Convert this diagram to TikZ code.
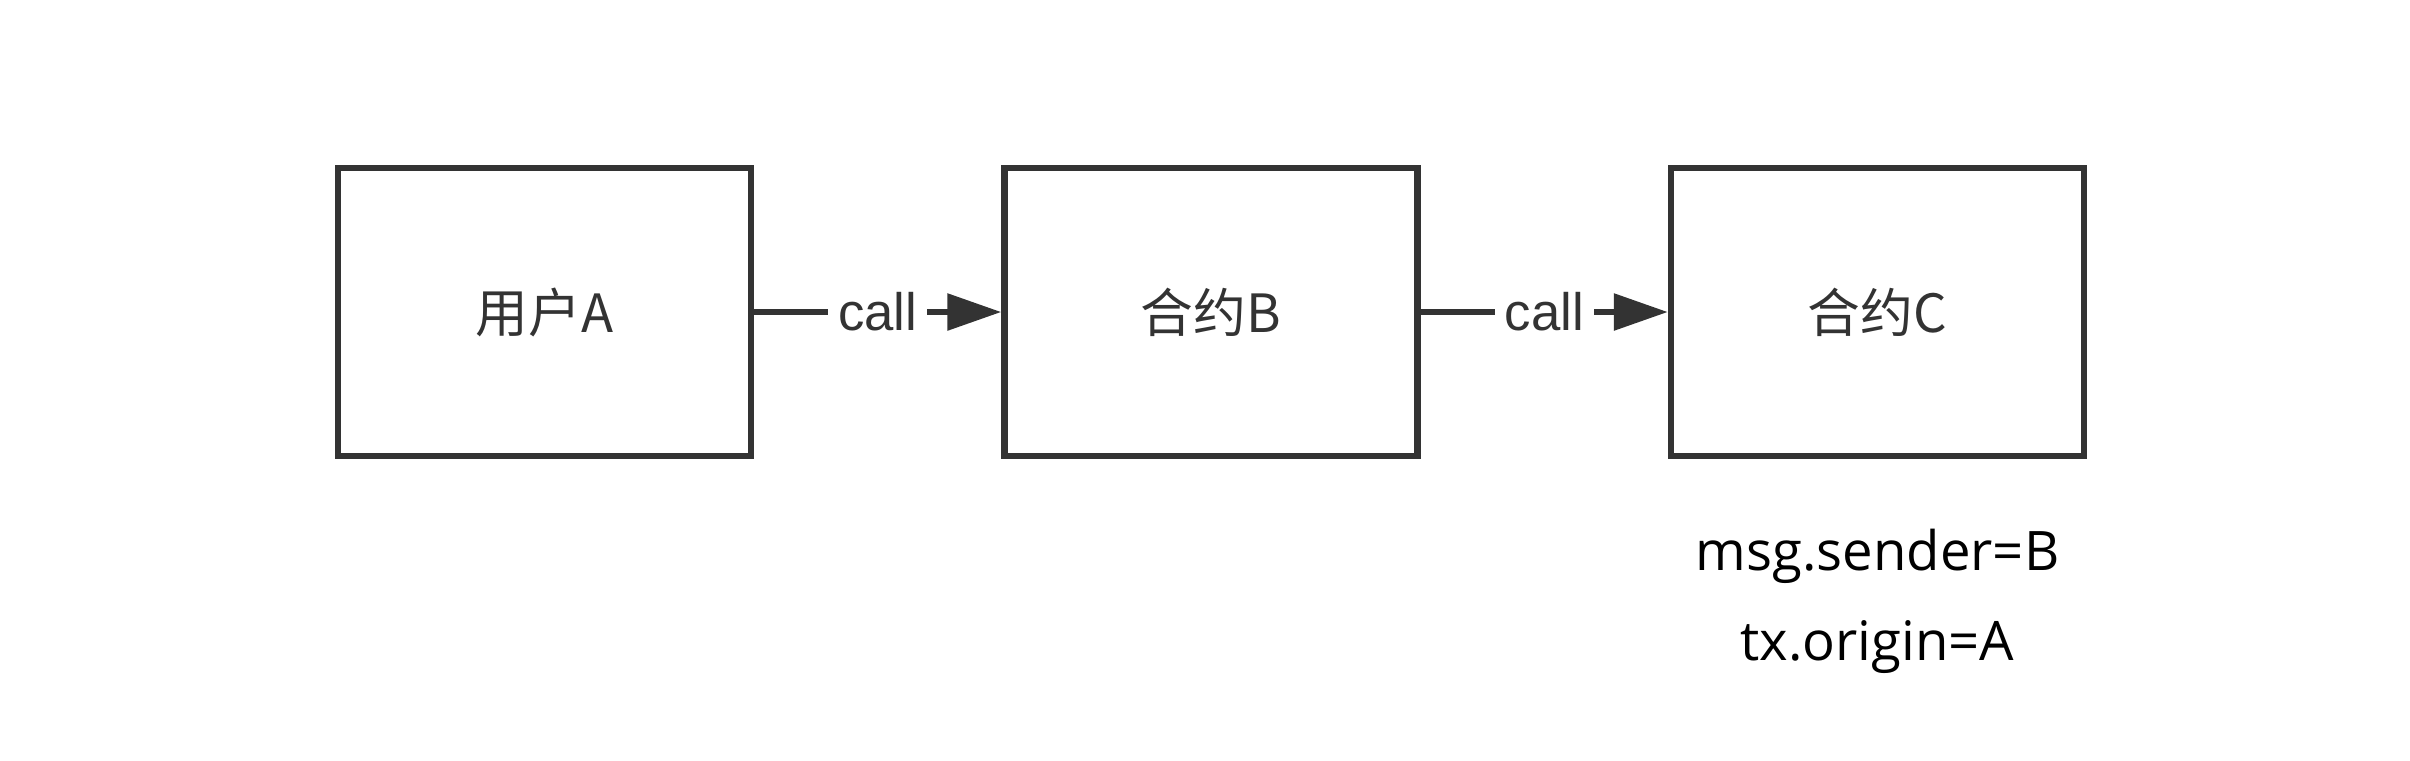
\documentclass[tikz,border=0pt]{standalone}
\usepackage{fontspec}
\setmainfont{Noto Sans CJK SC}
\newfontfamily\notefont{Open Sans}
\newfontfamily\callfont{Liberation Sans}
\usepackage{xcolor}
\usepackage{tikz}
\usetikzlibrary{positioning, arrows.meta}
\definecolor{ink}{HTML}{333333}

\begin{document}
\begin{tikzpicture}[
  x=0.1mm, y=-0.1mm,
  font=\fontsize{15pt}{18pt}\selectfont,
  >={Triangle[length=5.4mm, width=3.6mm]},
  box/.style={
    draw=ink, line width=0.65mm, text=ink,
    minimum width=41.3mm, minimum height=28.8mm, inner sep=0pt
  },
  conn/.style={->, draw=ink, fill=ink, line width=0.6mm},
  calllabel/.style={fill=white, text=ink, inner sep=1mm,
    font=\callfont\fontsize{15pt}{18pt}\selectfont},
  note/.style={font=\notefont\fontsize{15.5pt}{18pt}\selectfont, text=black}
]
\useasboundingbox (0,0) rectangle (2410,760);

\node[box] (usera) at (544.5,312) {用户A};
\node[box, right=24.7mm of usera] (contractb) {合约B};
\node[box, right=24.7mm of contractb] (contractc) {合约C};

\draw[conn] (usera) -- node[calllabel] {call} (contractb);
\draw[conn] (contractb) -- node[calllabel] {call} (contractc);

\node[note, below=11.1mm of contractc.south, anchor=base] (sender) {msg.sender=B};
\node[note, below=9.0mm of sender.base, anchor=base] (origin) {tx.origin=A};

\end{tikzpicture}
\end{document}
